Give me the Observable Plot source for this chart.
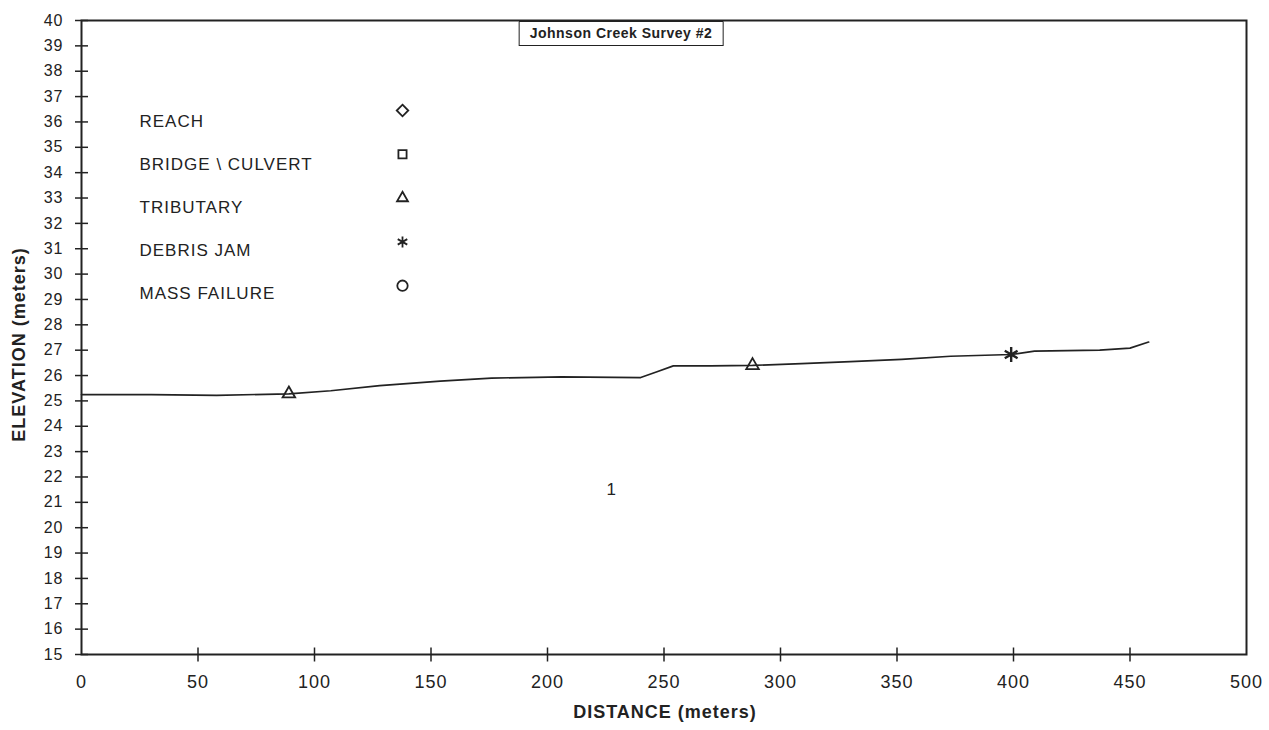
<!DOCTYPE html>
<html>
<head>
<meta charset="utf-8">
<script src="https://cdn.jsdelivr.net/npm/d3@7"></script>
<script src="https://cdn.jsdelivr.net/npm/@observablehq/plot@0.6"></script>
<style>
  html, body { margin: 0; padding: 0; background: #fff; }
  #wrap { position: relative; width: 1269px; height: 730px; font-family: "Liberation Sans", Arial, sans-serif; }
  #wrap svg text { letter-spacing: 1px; }
  #wrap svg text.ytitle { letter-spacing: 2px; }
  #title {
    position: absolute; left: 621px; top: 21px; transform: translateX(-50%);
    border: 1.5px solid #222; padding: 3px 10px 4px 10px; background: #fff;
    font-weight: bold; font-size: 14px; color: #222; letter-spacing: 0.5px; white-space: nowrap;
  }
</style>
</head>
<body>
<div id="wrap"><div id="title"></div></div>
<script>
// ---- data ----
const distance  = [0, 30, 58, 89, 107, 128, 154, 176, 195, 206, 240, 247, 254, 270, 288, 309, 330, 352, 373, 399, 409, 437, 450, 458];
const elevation = [25.25, 25.25, 25.22, 25.28, 25.4, 25.6, 25.78, 25.9, 25.93, 25.95, 25.92, 26.15, 26.38, 26.38, 26.4, 26.47, 26.55, 26.64, 26.76, 26.83, 26.96, 27.0, 27.08, 27.32];

const tributaryDistance  = [89, 288];
const tributaryElevation = [25.28, 26.4];
const debrisDistance  = [399];
const debrisElevation = [26.83];

const xTicks = [0, 50, 100, 150, 200, 250, 300, 350, 400, 450, 500];
const yTicks = [15, 16, 17, 18, 19, 20, 21, 22, 23, 24, 25, 26, 27, 28, 29, 30, 31, 32, 33, 34, 35, 36, 37, 38, 39, 40];
const xDomain = [0, 500];
const yDomain = [15, 40];

const legendLabels  = ["REACH", "BRIDGE \\ CULVERT", "TRIBUTARY", "DEBRIS JAM", "MASS FAILURE"];
const legendSymbols = ["diamond2", "square2", "triangle2", "asterisk", "circle"];

const chartTitle = "Johnson Creek Survey #2";
const xTitle = "DISTANCE (meters)";
const yTitle = "ELEVATION (meters)";
const annotation = "1";

// ---- build ----
const ink = "#222";
const profile = distance.map((d, i) => ({distance: d, elevation: elevation[i]}));
const tribs = tributaryDistance.map((d, i) => ({distance: d, elevation: tributaryElevation[i]}));
const debris = debrisDistance.map((d, i) => ({distance: d, elevation: debrisElevation[i]}));

// crossing tick symbols
const hTick = {draw(ctx, size) { const r = Math.sqrt(size / Math.PI); ctx.moveTo(-r, 0); ctx.lineTo(r, 0); }};
const vTick = {draw(ctx, size) { const r = Math.sqrt(size / Math.PI); ctx.moveTo(0, -r); ctx.lineTo(0, r); }};

const legendMarks = legendLabels.flatMap((label, i) => [
  Plot.text([label], {frameAnchor: "top-left", dx: 58, dy: 94 + i * 43.2, textAnchor: "start",
    fontSize: 17, fill: ink}),
  Plot.dot([legendSymbols[i]], {frameAnchor: "top-left", dx: 321, dy: 90 + i * 43.8,
    symbol: legendSymbols[i], r: 5.2, stroke: ink, strokeWidth: 1.8, fill: "none"})
]);

const chart = Plot.plot({
  width: 1269,
  height: 730,
  marginLeft: 81,
  marginRight: 23,
  marginTop: 20,
  marginBottom: 76,
  style: {fontFamily: "'Liberation Sans', Arial, sans-serif", color: ink, background: "#fff"},
  x: {domain: xDomain, label: null},
  y: {domain: yDomain, label: null},
  marks: [
    Plot.frame({stroke: ink, strokeWidth: 2}),
    Plot.axisY({ticks: yTicks, tickSize: 0, tickPadding: 18, fontSize: 16, tickFormat: d => String(d), label: null}),
    Plot.axisX({ticks: xTicks, tickSize: 0, tickPadding: 21, fontSize: 18, tickFormat: d => String(d), label: null}),
    Plot.dot(yTicks, {x: () => xDomain[0], y: d => d, symbol: hTick, r: 6.5, stroke: ink, strokeWidth: 1.5}),
    Plot.dot(xTicks.slice(1, -1), {x: d => d, y: () => yDomain[0], symbol: vTick, r: 7, stroke: ink, strokeWidth: 1.5}),
    Plot.line(profile, {x: "distance", y: "elevation", stroke: ink, strokeWidth: 1.7}),
    Plot.dot(tribs, {x: "distance", y: "elevation", symbol: "triangle2", r: 6, stroke: ink, strokeWidth: 1.8, fill: "none"}),
    Plot.dot(debris, {x: "distance", y: "elevation", symbol: "asterisk", r: 7, stroke: ink, strokeWidth: 2.4}),
    ...legendMarks,
    Plot.text([annotation], {frameAnchor: "top-left", dx: 525, dy: 462, fontSize: 17, fill: ink}),
    Plot.text([xTitle], {frameAnchor: "bottom", dx: 1, dy: 63, fontSize: 18, fontWeight: "bold", fill: ink}),
    Plot.text([yTitle], {frameAnchor: "left", dx: -62, dy: 7, rotate: -90, textAnchor: "middle", fontSize: 18, fontWeight: "bold", fill: ink, className: "ytitle"})
  ]
});

const wrap = document.getElementById("wrap");
wrap.insertBefore(chart, wrap.firstChild);
document.getElementById("title").textContent = chartTitle;
</script>
</body>
</html>
